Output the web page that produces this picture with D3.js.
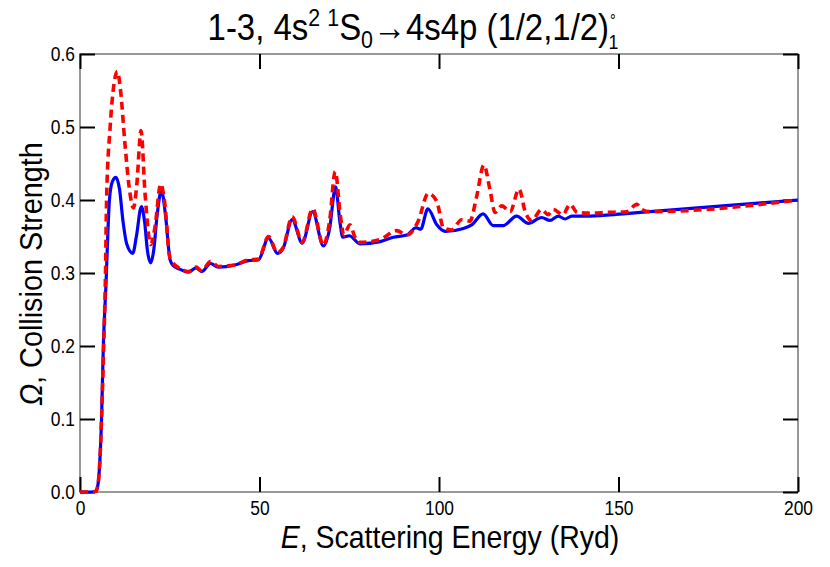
<!DOCTYPE html>
<html>
<head>
<meta charset="utf-8">
<script src="https://cdn.jsdelivr.net/npm/d3@7"></script>
<style>
  body { margin: 0; background: #fff; }
  text { font-family: "Liberation Sans", Arial, sans-serif; }
</style>
</head>
<body>
<div id="chart"></div>
<script>
// energies (Ryd) and collision strengths
var blueE = [0, 3, 4.4, 5, 5.5, 6, 6.5, 7.2, 8.2, 9, 10, 11, 12, 13, 14.7, 15.7, 17.1, 18, 18.8, 19.7, 20.5, 21.5, 22.7, 23.8, 25.1, 26, 27.9, 30.2, 32.3, 33.9, 36.4, 38.5, 43.2, 46.9, 49.7, 52.5, 55, 56.6, 59.1, 61.9, 64.8, 67.8, 69.5, 71.2, 72.4, 73.2, 75, 78, 83.6, 87.3, 91, 93.6, 94.9, 96.9, 99.4, 101.7, 106.8, 109.1, 112.3, 115.1, 117.9, 121.6, 124.9, 128.6, 130.9, 133.2, 135.1, 137, 142.1, 151.3, 158.8, 200];
var blueOmega = [0, 0, 0.001, 0.01, 0.04, 0.1, 0.2, 0.28, 0.40, 0.425, 0.431, 0.415, 0.37, 0.34, 0.327, 0.35, 0.391, 0.37, 0.33, 0.314, 0.33, 0.38, 0.413, 0.38, 0.318, 0.31, 0.305, 0.301, 0.307, 0.302, 0.313, 0.308, 0.311, 0.317, 0.318, 0.348, 0.327, 0.334, 0.373, 0.341, 0.384, 0.337, 0.36, 0.418, 0.37, 0.349, 0.351, 0.340, 0.343, 0.349, 0.352, 0.362, 0.360, 0.388, 0.366, 0.357, 0.361, 0.366, 0.381, 0.365, 0.365, 0.378, 0.368, 0.376, 0.372, 0.378, 0.374, 0.378, 0.378, 0.381, 0.384, 0.400];

var redE = [0, 3, 4.4, 5, 5.5, 6, 6.6, 7.1, 7.4, 8.4, 9.5, 10.4, 11.3, 12.5, 13.9, 14.9, 15.8, 17, 18.1, 19.7, 20.8, 22.5, 23.5, 25.1, 27.9, 30.2, 32.3, 33.9, 36.4, 38.5, 43.2, 46.9, 49.7, 52.5, 55, 56.6, 59.1, 61.9, 64.8, 67.8, 69.5, 71.1, 72.5, 73.5, 75.2, 76.5, 78, 83.6, 88.2, 91, 94.2, 97, 99.4, 101.2, 103.5, 106.3, 108.6, 110.5, 112.5, 114.2, 115.6, 117.5, 119.8, 122.3, 124, 125.8, 128.6, 130.4, 131.8, 134.5, 136.5, 138.5, 142.1, 146.7, 152.3, 155.1, 156.5, 158.8, 200];
var redOmega = [0, 0, 0.001, 0.01, 0.04, 0.1, 0.2, 0.3, 0.4, 0.5, 0.56, 0.576, 0.55, 0.478, 0.41, 0.389, 0.42, 0.495, 0.41, 0.339, 0.36, 0.422, 0.40, 0.32, 0.306, 0.302, 0.308, 0.303, 0.316, 0.309, 0.311, 0.318, 0.319, 0.35, 0.328, 0.335, 0.377, 0.342, 0.388, 0.338, 0.37, 0.439, 0.38, 0.352, 0.366, 0.35, 0.342, 0.346, 0.358, 0.352, 0.371, 0.409, 0.398, 0.362, 0.359, 0.373, 0.371, 0.405, 0.448, 0.414, 0.383, 0.392, 0.384, 0.415, 0.384, 0.372, 0.387, 0.380, 0.387, 0.380, 0.394, 0.383, 0.382, 0.383, 0.384, 0.394, 0.387, 0.384, 0.400];

var xTicks = [0, 50, 100, 150, 200];
var yTicks = [0, 0.1, 0.2, 0.3, 0.4, 0.5, 0.6];

var W = 830, H = 567;
var margin = {top: 54, right: 32, bottom: 75, left: 80};
var width = W - margin.left - margin.right,
    height = H - margin.top - margin.bottom;
var squeeze = 0.87;   // reference text is a condensed face

var svg = d3.select("#chart").append("svg")
    .attr("width", W)
    .attr("height", H);

var g = svg.append("g")
    .attr("transform", "translate(" + margin.left + "," + margin.top + ")");

var x = d3.scaleLinear().domain([0, 200]).range([0, width]);
var y = d3.scaleLinear().domain([0, 0.6]).range([height, 0]);

// frame
g.append("rect")
    .attr("width", width)
    .attr("height", height)
    .attr("fill", "none")
    .attr("stroke", "#777")
    .attr("stroke-width", 1.5);

function styleAxis(sel) {
    sel.select(".domain").remove();
    sel.selectAll(".tick line").attr("stroke", "#000").attr("stroke-width", 2);
    sel.selectAll(".tick text")
        .attr("fill", "#000")
        .style("font-size", "20px")
        .attr("x", function () { return (+d3.select(this).attr("x") || 0) / squeeze; })
        .attr("transform", "scale(" + squeeze + ",1)");
}

g.append("g")
    .attr("transform", "translate(0," + height + ")")
    .call(d3.axisBottom(x).tickValues(xTicks).tickFormat(d3.format("d")).tickSize(-15).tickPadding(9))
    .call(styleAxis);

g.append("g")
    .call(d3.axisTop(x).tickValues(xTicks).tickFormat("").tickSize(-15))
    .call(styleAxis);

g.append("g")
    .call(d3.axisLeft(y).tickValues(yTicks).tickFormat(d3.format(".1f")).tickSize(-15).tickPadding(5))
    .call(styleAxis);

g.append("g")
    .attr("transform", "translate(" + width + ",0)")
    .call(d3.axisRight(y).tickValues(yTicks).tickFormat("").tickSize(-15))
    .call(styleAxis);

var line = d3.line()
    .x(function (d) { return x(d[0]); })
    .y(function (d) { return y(d[1]); })
    .curve(d3.curveMonotoneX);

g.append("path")
    .datum(d3.zip(blueE, blueOmega))
    .attr("d", line)
    .attr("fill", "none")
    .attr("stroke", "#0000ff")
    .attr("stroke-width", 3.2)
    .attr("stroke-linejoin", "round");

g.append("path")
    .datum(d3.zip(redE, redOmega))
    .attr("d", line)
    .attr("fill", "none")
    .attr("stroke", "#ff0000")
    .attr("stroke-width", 3.6)
    .attr("stroke-dasharray", "8,5");

// title
var title = svg.append("g")
    .attr("transform", "translate(413,40) scale(0.89,1)")
    .append("text")
    .attr("text-anchor", "middle")
    .style("font-size", "37px");
title.append("tspan").text("1-3, 4s");
title.append("tspan").attr("dy", -14).style("font-size", "24px").text("2");
title.append("tspan").attr("dx", 8).style("font-size", "24px").text("1");
title.append("tspan").attr("dy", 14).text("S");
title.append("tspan").attr("dy", 8).style("font-size", "24px").text("0");
title.append("tspan").attr("dy", -8).text("\u21924s4p (1/2,1/2)");
title.append("tspan").attr("dx", 1).attr("dy", -14).style("font-size", "16px").text("\u00b0");
title.append("tspan").attr("dx", -8).attr("dy", 23).style("font-size", "20px").text("1");

// axis labels
var xl = svg.append("g")
    .attr("transform", "translate(" + (margin.left + width / 2 + 11) + ",548) scale(0.89,1)")
    .append("text")
    .attr("text-anchor", "middle")
    .style("font-size", "32px");
xl.append("tspan").style("font-style", "italic").text("E");
xl.append("tspan").text(", Scattering Energy (Ryd)");

var yl = svg.append("g")
    .attr("transform", "translate(42,274) rotate(-90) scale(0.9,1)")
    .append("text")
    .attr("text-anchor", "middle")
    .style("font-size", "32px");
yl.append("tspan").style("font-style", "italic").text("\u03a9");
yl.append("tspan").text(", Collision Strength");
</script>
</body>
</html>
